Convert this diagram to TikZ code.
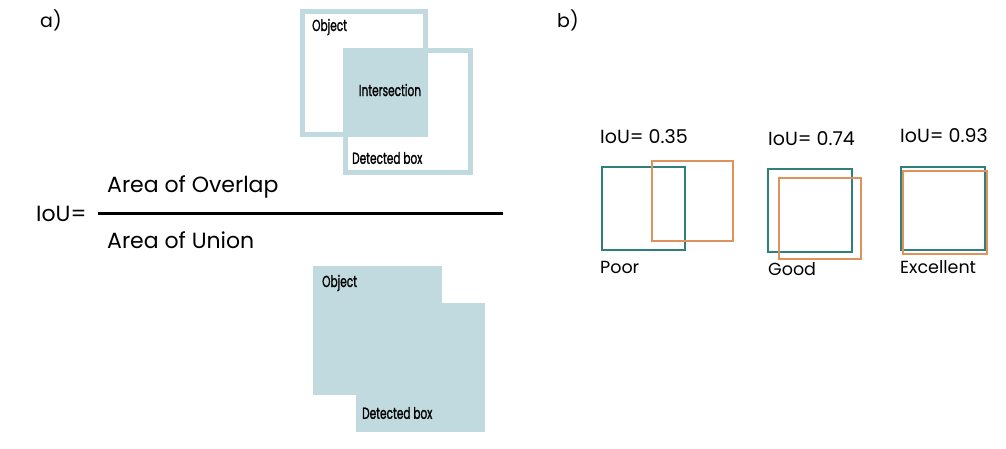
\documentclass[tikz,border=0pt]{standalone}
\usepackage{fontspec}
\setmainfont{Poppins}
\newfontfamily\condfont[FakeStretch=0.66,FakeBold=1.2]{Poppins}
\definecolor{iouBlue}{HTML}{C0DAE0}
\definecolor{iouTeal}{HTML}{2F7F7A}
\definecolor{iouOrange}{HTML}{E0925A}

\begin{document}
\begin{tikzpicture}[x=1pt,y=-1pt]
    % Plain text nodes, anchored at their left side
    \tikzstyle{every node}=[inner sep=0pt,anchor=west]
    \tikzstyle{label}=[font=\fontsize{19}{22}\selectfont]
    \tikzstyle{biglabel}=[font=\fontsize{22}{26}\selectfont]
    \tikzstyle{rating}=[font=\fontsize{17.5}{20}\selectfont]
    \tikzstyle{boxtext}=[font=\condfont\fontsize{16}{18}\selectfont]
    \tikzstyle{frame}=[iouBlue,line width=5pt]
    \tikzstyle{gt}=[iouTeal,line width=1.5pt]
    \tikzstyle{pred}=[iouOrange,line width=1.5pt]

    % Fix the page size
    \useasboundingbox (0,0) rectangle (1006,449);

    % Panel letters
    \node[label] (pa) at (40,20) {a)};
    \node[label] (pb) at (557,20) {b)};

    % Intersection of the two boxes
    \draw[frame] (302.5,11.5) rectangle (425.5,134.5);
    \draw[frame] (345.5,50.5) rectangle (470.5,172.5);
    \fill[iouBlue] (343,48) rectangle (428,137);
    \node[boxtext] (objtop) at (312,27) {Object};
    \node[boxtext,anchor=center] (inter) at (390,90) {Intersection};
    \node[boxtext] (dettop) at (352,158) {Detected box};

    % The fraction
    \node[biglabel] (iou) at (36,214) {IoU=};
    \node[biglabel] (overlap) at (107,187) {Area of Overlap};
    \node[biglabel] (union) at (107,240) {Area of Union};
    \coordinate (barl) at (98,213);
    \coordinate (barr) at (503,213);
    \draw[line width=3pt] (barl) -- (barr);

    % Union of the two boxes
    \fill[iouBlue] (313,266) rectangle (442,395);
    \fill[iouBlue] (356,303) rectangle (485,432);
    \node[boxtext] (objbot) at (322,283) {Object};
    \node[boxtext] (detbot) at (362,413) {Detected box};

    % Three examples: ground truth (teal) and prediction (orange)
    \draw[gt] (602,167) rectangle (685,250);
    \draw[pred] (652,161) rectangle (733,241);
    \draw[gt] (768,169) rectangle (852,252);
    \draw[pred] (779,178) rectangle (861,259);
    \draw[gt] (901,167) rectangle (985,250);
    \draw[pred] (903,171) rectangle (987,254);

    % Scores and ratings
    \node[label] (poorval) at (600,137) {IoU= 0.35};
    \node[label] (goodval) at (768,139) {IoU= 0.74};
    \node[label] (excval) at (900,136) {IoU= 0.93};
    \node[rating] (poor) at (600,267) {Poor};
    \node[rating] (good) at (768,269) {Good};
    \node[rating] (exc) at (900,267) {Excellent};

\end{tikzpicture}
\end{document}
